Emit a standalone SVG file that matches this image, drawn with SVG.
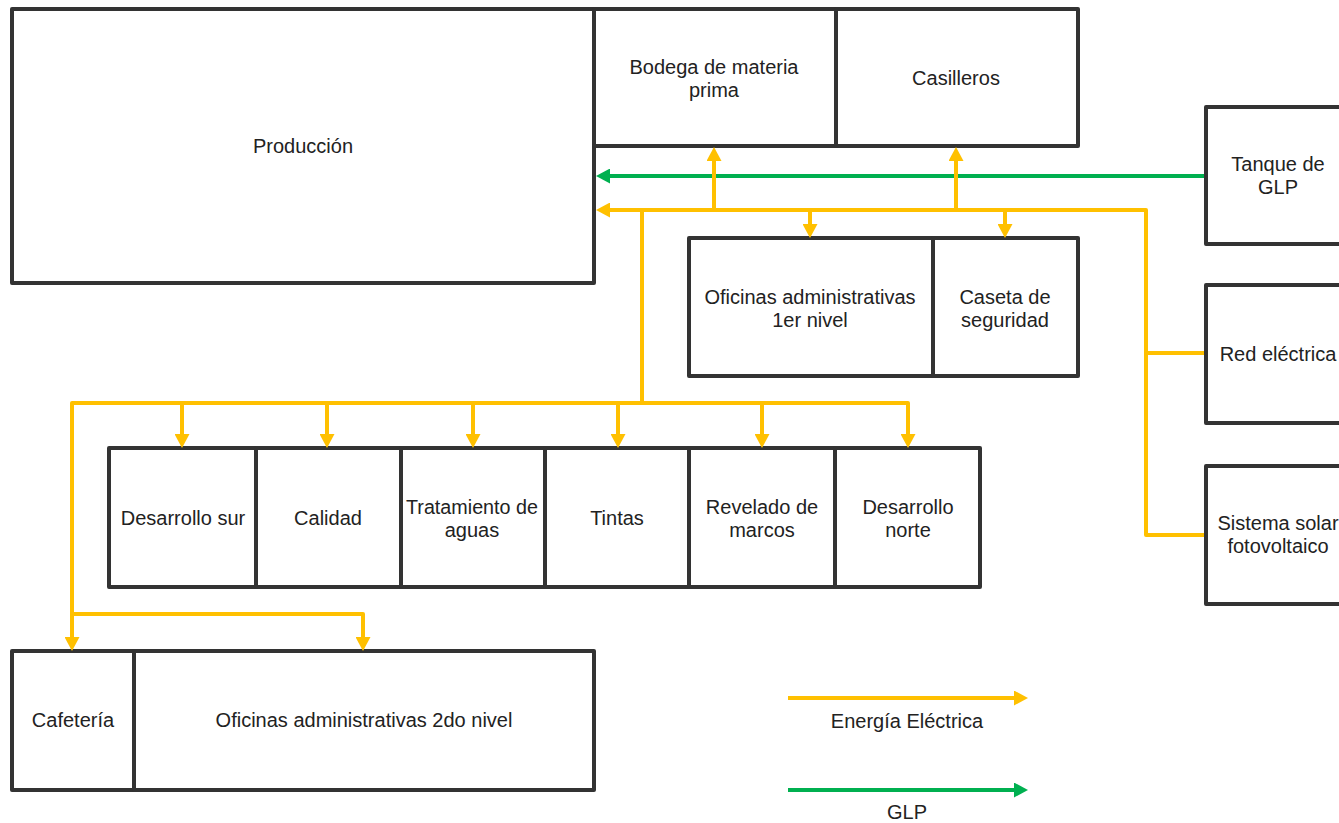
<svg xmlns="http://www.w3.org/2000/svg" width="1339" height="823" viewBox="0 0 1339 823">
<style>
.box{fill:#fff;stroke:#333;stroke-width:4;stroke-linejoin:round}
.t{font-family:"Liberation Sans",Arial,sans-serif;font-size:20px;fill:#222;text-anchor:middle;dominant-baseline:central}
.y{fill:none;stroke:#FFC000;stroke-width:4;stroke-linejoin:round}
.g{fill:none;stroke:#00B050;stroke-width:4;stroke-linejoin:round}
</style>
<defs>
<marker id="ay" markerUnits="userSpaceOnUse" viewBox="0 0 14 15" refX="4" refY="7.5" markerWidth="14" markerHeight="15" orient="auto"><path d="M0,0 L14,7.5 L0,15 z" fill="#FFC000"/></marker>
<marker id="ag" markerUnits="userSpaceOnUse" viewBox="0 0 14 15" refX="4" refY="7.5" markerWidth="14" markerHeight="15" orient="auto"><path d="M0,0 L14,7.5 L0,15 z" fill="#00B050"/></marker>
</defs>
<rect width="1339" height="823" fill="#fff"/>
<g id="produccion"><rect class="box" x="12" y="9" width="582" height="274"/><text class="t" x="303" y="146">Producción</text></g>
<g id="bodega"><rect class="box" x="594" y="9" width="242" height="137"/><text class="t" x="714" y="67">Bodega de materia</text><text class="t" x="714" y="90">prima</text></g>
<g id="casilleros"><rect class="box" x="836" y="9" width="242" height="137"/><text class="t" x="956" y="78">Casilleros</text></g>
<g id="oficinas1"><rect class="box" x="689" y="238" width="244" height="138"/><text class="t" x="810" y="297">Oficinas administrativas</text><text class="t" x="810" y="320">1er nivel</text></g>
<g id="caseta"><rect class="box" x="933" y="238" width="145" height="138"/><text class="t" x="1005" y="297">Caseta de</text><text class="t" x="1005" y="320">seguridad</text></g>
<g id="tanque"><rect class="box" x="1206" y="107" width="150" height="137"/><text class="t" x="1278" y="164">Tanque de</text><text class="t" x="1278" y="187">GLP</text></g>
<g id="red"><rect class="box" x="1206" y="285" width="150" height="138"/><text class="t" x="1278" y="354">Red eléctrica</text></g>
<g id="solar"><rect class="box" x="1206" y="466" width="150" height="138"/><text class="t" x="1278" y="523">Sistema solar</text><text class="t" x="1278" y="546">fotovoltaico</text></g>
<g id="desarrollo-sur"><rect class="box" x="109" y="448" width="147" height="139"/><text class="t" x="183" y="518">Desarrollo sur</text></g>
<g id="calidad"><rect class="box" x="256" y="448" width="145" height="139"/><text class="t" x="328" y="518">Calidad</text></g>
<g id="tratamiento"><rect class="box" x="401" y="448" width="144" height="139"/><text class="t" x="472" y="507" textLength="132" lengthAdjust="spacingAndGlyphs">Tratamiento de</text><text class="t" x="472" y="530">aguas</text></g>
<g id="tintas"><rect class="box" x="545" y="448" width="144" height="139"/><text class="t" x="617" y="518">Tintas</text></g>
<g id="revelado"><rect class="box" x="689" y="448" width="146" height="139"/><text class="t" x="762" y="507">Revelado de</text><text class="t" x="762" y="530">marcos</text></g>
<g id="desarrollo-norte"><rect class="box" x="835" y="448" width="145" height="139"/><text class="t" x="908" y="507">Desarrollo</text><text class="t" x="908" y="530">norte</text></g>
<g id="cafeteria"><rect class="box" x="12" y="651" width="122" height="139"/><text class="t" x="73" y="720">Cafetería</text></g>
<g id="oficinas2"><rect class="box" x="134" y="651" width="460" height="139"/><text class="t" x="364" y="720">Oficinas administrativas 2do nivel</text></g>
<g id="connectors">
<path class="g" d="M1204,176 H606" marker-end="url(#ag)"/>
<path class="y" d="M1204,535 H1146 V210 H606" marker-end="url(#ay)"/>
<path class="y" d="M1204,353 H1146"/>
<path class="y" d="M714,210 V157" marker-end="url(#ay)"/>
<path class="y" d="M956,210 V157" marker-end="url(#ay)"/>
<path class="y" d="M810,210 V228" marker-end="url(#ay)"/>
<path class="y" d="M1005,210 V228" marker-end="url(#ay)"/>
<path class="y" d="M642,210 V403"/>
<path class="y" d="M642,403 H908 V438" marker-end="url(#ay)"/>
<path class="y" d="M642,403 H72 V641" marker-end="url(#ay)"/>
<path class="y" d="M182,403 V438" marker-end="url(#ay)"/>
<path class="y" d="M327,403 V438" marker-end="url(#ay)"/>
<path class="y" d="M473,403 V438" marker-end="url(#ay)"/>
<path class="y" d="M618,403 V438" marker-end="url(#ay)"/>
<path class="y" d="M762,403 V438" marker-end="url(#ay)"/>
<path class="y" d="M72,614 H363 V641" marker-end="url(#ay)"/>
</g>
<g id="legend">
<path class="y" d="M788,698 H1018" marker-end="url(#ay)"/>
<text class="t" x="907" y="721">Energía Eléctrica</text>
<path class="g" d="M788,790 H1018" marker-end="url(#ag)"/>
<text class="t" x="907" y="812">GLP</text>
</g>
</svg>
